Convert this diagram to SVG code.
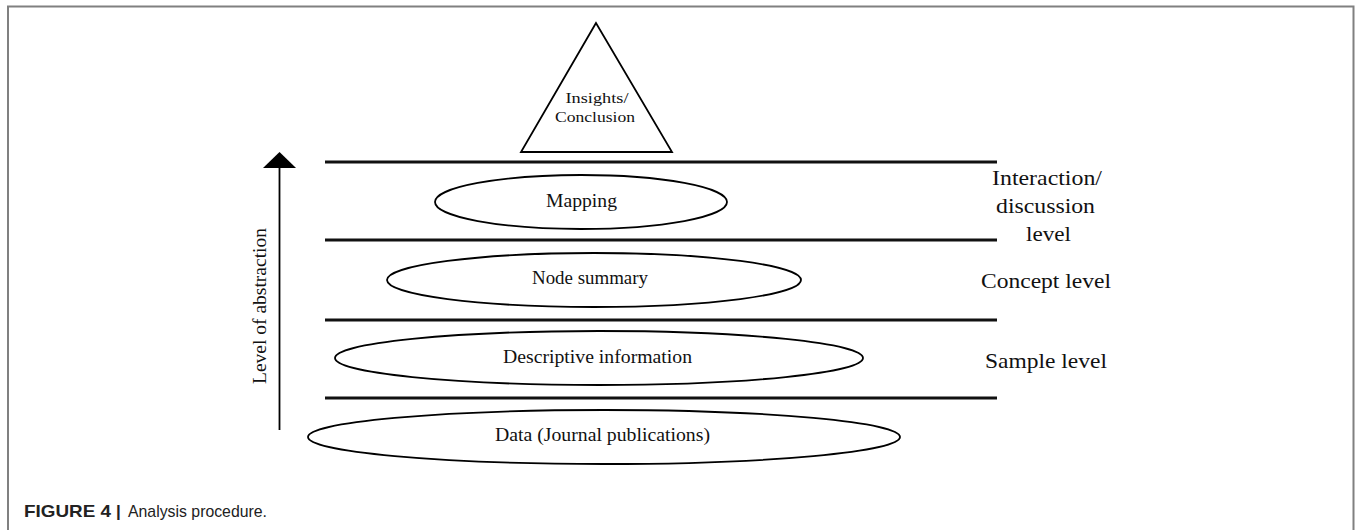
<svg xmlns="http://www.w3.org/2000/svg" width="1356" height="530" viewBox="0 0 1356 530">
<style>
.frame{fill:none;stroke:#808080;stroke-width:2}
.shape{fill:#fff;stroke:#000;stroke-width:1.8}
.band{stroke:#111;stroke-width:3.2}
.t{font-family:"Liberation Serif","Times New Roman",serif;fill:#111;text-anchor:middle}
.s{font-size:18px}
.tri{font-size:15px}
.lv{font-size:22px}
.cap{font-family:"Liberation Sans",Arial,sans-serif;font-size:17px;fill:#222}
</style>
<rect width="1356" height="530" fill="#fff"/>
<path class="frame" d="M8,531 V6.5 H1353.5 V531"/>

<g id="connectors">
<line class="band" x1="325" y1="162" x2="997" y2="162"/>
<line class="band" x1="325" y1="240" x2="997" y2="240"/>
<line class="band" x1="325" y1="320" x2="997" y2="320"/>
<line class="band" x1="325" y1="398" x2="997" y2="398"/>
</g>

<g id="axis">
<line x1="279.5" y1="430" x2="279.5" y2="166" stroke="#000" stroke-width="1.8"/>
<polygon points="279.5,152 263,168 296,168" fill="#000"/>
<text class="t" font-size="18" transform="translate(266,306) rotate(-90)" textLength="156" lengthAdjust="spacingAndGlyphs">Level of abstraction</text>
</g>

<g id="insights">
<polygon class="shape" points="596,23 521,152 672,152"/>
<text class="t tri" x="597" y="103" textLength="63" lengthAdjust="spacingAndGlyphs">Insights/</text>
<text class="t tri" x="595" y="122" textLength="80" lengthAdjust="spacingAndGlyphs">Conclusion</text>
</g>

<g id="mapping">
<ellipse class="shape" cx="581" cy="202" rx="146" ry="27"/>
<text class="t s" x="581.5" y="207" textLength="71" lengthAdjust="spacingAndGlyphs">Mapping</text>
</g>

<g id="node-summary">
<ellipse class="shape" cx="594" cy="280" rx="207" ry="27"/>
<text class="t s" x="590" y="284" textLength="116" lengthAdjust="spacingAndGlyphs">Node summary</text>
</g>

<g id="descriptive">
<ellipse class="shape" cx="599" cy="358" rx="264" ry="27"/>
<text class="t s" x="597.5" y="363" textLength="189" lengthAdjust="spacingAndGlyphs">Descriptive information</text>
</g>

<g id="data">
<ellipse class="shape" cx="604" cy="437" rx="296" ry="27"/>
<text class="t s" x="602.5" y="441" textLength="215" lengthAdjust="spacingAndGlyphs">Data (Journal publications)</text>
</g>

<g id="level-labels">
<text class="t lv" x="1047" y="185" textLength="110" lengthAdjust="spacingAndGlyphs">Interaction/</text>
<text class="t lv" x="1045.5" y="213" textLength="99" lengthAdjust="spacingAndGlyphs">discussion</text>
<text class="t lv" x="1048.5" y="241" textLength="45" lengthAdjust="spacingAndGlyphs">level</text>
<text class="t lv" x="1046" y="288" textLength="130" lengthAdjust="spacingAndGlyphs">Concept level</text>
<text class="t lv" x="1046" y="368" textLength="122" lengthAdjust="spacingAndGlyphs">Sample level</text>
</g>

<g id="caption">
<text class="cap" x="24" y="517" font-weight="bold" textLength="87" lengthAdjust="spacingAndGlyphs">FIGURE 4</text>
<text class="cap" x="116" y="517" font-weight="bold">|</text>
<text class="cap" x="128" y="517" textLength="139" lengthAdjust="spacingAndGlyphs">Analysis procedure.</text>
</g>
</svg>
